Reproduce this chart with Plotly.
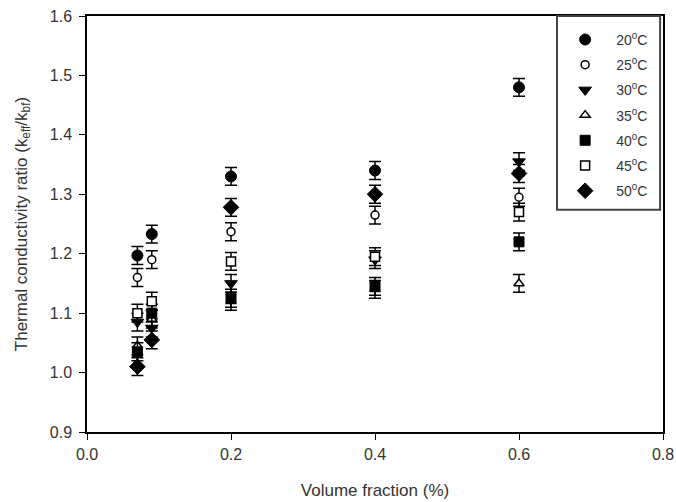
import plotly.graph_objects as go

x_vals = [0.07, 0.09, 0.2, 0.4, 0.6]
series_names = ["20<sup>0</sup>C", "25<sup>0</sup>C", "30<sup>0</sup>C", "35<sup>0</sup>C",
                "40<sup>0</sup>C", "45<sup>0</sup>C", "50<sup>0</sup>C"]
t20 = [1.197, 1.233, 1.330, 1.340, 1.480]
t25 = [1.160, 1.190, 1.237, 1.265, 1.295]
t30 = [1.085, 1.075, 1.150, 1.190, 1.355]
t35 = [1.045, 1.090, 1.120, 1.140, 1.150]
t40 = [1.035, 1.100, 1.125, 1.145, 1.220]
t45 = [1.100, 1.120, 1.187, 1.195, 1.270]
t50 = [1.010, 1.055, 1.278, 1.300, 1.335]
err = [0.015, 0.015, 0.015, 0.015, 0.015]

series = [t20, t25, t30, t35, t40, t45, t50]
styles = [
    dict(symbol="circle", color="black", size=11, line=dict(color="black", width=1)),
    dict(symbol="circle", color="white", size=8, line=dict(color="black", width=1.5)),
    dict(symbol="triangle-down", color="black", size=11, line=dict(color="black", width=1)),
    dict(symbol="triangle-up", color="white", size=9, line=dict(color="black", width=1.5)),
    dict(symbol="square", color="black", size=10, line=dict(color="black", width=1)),
    dict(symbol="square", color="white", size=9, line=dict(color="black", width=1.5)),
    dict(symbol="diamond", color="black", size=12, line=dict(color="black", width=1)),
]

fig = go.Figure()
for i, (name, ys, st) in enumerate(zip(series_names, series, styles)):
    fig.add_trace(go.Scatter(
        x=x_vals, y=ys, mode="markers", name=name, legendgroup=f"g{i}",
        marker=st,
        error_y=dict(type="data", array=err, visible=True, color="black", thickness=1.5, width=6),
    ))

# legend frame
fig.add_shape(type="rect", xref="paper", yref="paper",
              x0=0.816, x1=0.995, y0=0.534, y1=1.0,
              line=dict(color="#444", width=2), fillcolor="white", layer="above")

fam = "Liberation Sans, Arial, sans-serif"
fig.update_layout(
    width=676, height=502,
    margin=dict(l=87, r=13, t=16, b=70),
    paper_bgcolor="white", plot_bgcolor="white",
    font=dict(family=fam, size=15, color="#333"),
    showlegend=True,
    legend=dict(x=0.811, y=0.981, xanchor="left", yanchor="top",
                borderwidth=0, bgcolor="rgba(0,0,0,0)",
                font=dict(family=fam, size=14, color="#333"),
                itemwidth=52,
                tracegroupgap=4),
    xaxis=dict(range=[0, 0.8], tickvals=[0, 0.2, 0.4, 0.6, 0.8], tickformat=".1f",
               showline=True, linecolor="black", linewidth=1.5, mirror=True, automargin=False,
               ticks="outside", ticklen=6, tickcolor="black", showgrid=False, zeroline=False,
               tickfont=dict(size=16), ticklabelstandoff=1,
               title=dict(text="Volume fraction (%)", standoff=22, font=dict(size=17))),
    yaxis=dict(range=[0.9, 1.6], tickvals=[0.9, 1.0, 1.1, 1.2, 1.3, 1.4, 1.5, 1.6], tickformat=".1f",
               showline=True, linecolor="black", linewidth=1.5, mirror=True, automargin=False,
               ticks="outside", ticklen=6, tickcolor="black", showgrid=False, zeroline=False,
               tickfont=dict(size=16), ticklabelstandoff=4,
               title=dict(text="Thermal conductivity ratio (k<sub>eff</sub>/k<sub>bf</sub>)", standoff=18,
                          font=dict(size=17))),
)

fig.write_html("out.html")
